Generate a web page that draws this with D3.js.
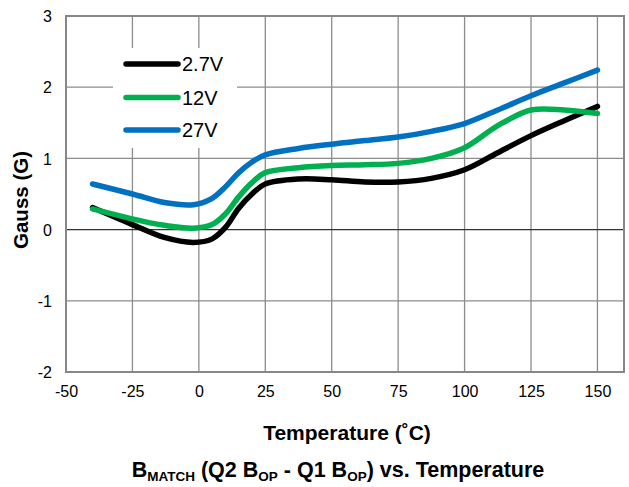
<!DOCTYPE html>
<html><head><meta charset="utf-8">
<script src="https://cdn.jsdelivr.net/npm/d3@7"></script>
<style>body{margin:0;background:#fff;} text{font-family:"Liberation Sans",Arial,sans-serif;}</style>
</head><body>
<svg id="c" width="629" height="487"></svg>
<script>
const temps = [-40, -25, -13, -2, 5, 10, 15, 20, 25, 37.5, 50, 62.5, 75, 87.5, 100, 112.5, 125, 137.5, 150];
const v27 = [0.31, 0.07, -0.11, -0.18, -0.13, 0.03, 0.30, 0.50, 0.64, 0.71, 0.70, 0.67, 0.67, 0.72, 0.84, 1.08, 1.32, 1.53, 1.73];
const v12 = [0.29, 0.15, 0.06, 0.02, 0.07, 0.22, 0.46, 0.66, 0.80, 0.87, 0.90, 0.91, 0.93, 1.00, 1.15, 1.46, 1.68, 1.68, 1.63];
const v27V = [0.64, 0.50, 0.38, 0.35, 0.44, 0.60, 0.80, 0.95, 1.05, 1.14, 1.20, 1.25, 1.30, 1.38, 1.49, 1.68, 1.88, 2.06, 2.24];
const seriesNames = ["2.7V", "12V", "27V"];
const seriesColors = ["#000000", "#00b050", "#0070c0"];
const xTicks = [-50, -25, 0, 25, 50, 75, 100, 125, 150];
const yTicks = [-2, -1, 0, 1, 2, 3];

const svg = d3.select("#c");
const L = 66, R = 624, T = 16, B = 372;
const x = d3.scaleLinear().domain([-50, 160]).range([L, R]);
const y = d3.scaleLinear().domain([-2, 3]).range([B, T]);
const fmt = d => d < 0 ? "-" + Math.abs(d) : String(d);

// gridlines
svg.append("g").selectAll("line").data(xTicks.filter(d => d > -50)).join("line")
  .attr("x1", d => x(d)).attr("x2", d => x(d)).attr("y1", T).attr("y2", B)
  .attr("stroke", "#8c8c8c").attr("stroke-width", 1.3);
svg.append("g").selectAll("line").data(yTicks.filter(d => d !== 0 && d !== -2 && d !== 3)).join("line")
  .attr("x1", L).attr("x2", R).attr("y1", d => y(d)).attr("y2", d => y(d))
  .attr("stroke", "#8c8c8c").attr("stroke-width", 1.3);
// zero line
svg.append("line").attr("x1", L).attr("x2", R).attr("y1", y(0)).attr("y2", y(0))
  .attr("stroke", "#333").attr("stroke-width", 1.2);
// frame
svg.append("rect").attr("x", L).attr("y", T).attr("width", R - L).attr("height", B - T)
  .attr("fill", "none").attr("stroke", "#878787").attr("stroke-width", 2);

// axes labels
const xAxis = d3.axisBottom(x).tickValues(xTicks).tickFormat(fmt).tickSize(0).tickPadding(0);
const gx = svg.append("g").attr("transform", `translate(0,${B})`).call(xAxis);
gx.select(".domain").remove();
gx.selectAll("text").attr("font-size", 16).attr("fill", "#000").attr("dy", null).attr("y", 25)
  .attr("font-family", "Liberation Sans, Arial, sans-serif");
const yAxis = d3.axisLeft(y).tickValues(yTicks).tickFormat(fmt).tickSize(0).tickPadding(0);
const gy = svg.append("g").attr("transform", `translate(52,0)`).call(yAxis);
gy.select(".domain").remove();
gy.selectAll("text").attr("font-size", 16).attr("fill", "#000").attr("dy", "0.35em")
  .attr("font-family", "Liberation Sans, Arial, sans-serif");

// legend background
svg.append("rect").attr("x", 113).attr("y", 48).attr("width", 124).attr("height", 100).attr("fill", "#fff");

// lines
const data = [v27, v12, v27V];
const line = d3.line().x((d, i) => x(temps[i])).y(d => y(d)).curve(d3.curveCatmullRom.alpha(0.5));
data.forEach((vals, k) => {
  svg.append("path").attr("d", line(vals)).attr("fill", "none")
    .attr("stroke", seriesColors[k]).attr("stroke-width", 5.5).attr("stroke-linecap", "round").attr("stroke-linejoin", "round");
});

// legend
const legY = [64, 97.5, 130];
seriesNames.forEach((n, k) => {
  svg.append("line").attr("x1", 126).attr("x2", 178).attr("y1", legY[k]).attr("y2", legY[k])
    .attr("stroke", seriesColors[k]).attr("stroke-width", 5.5).attr("stroke-linecap", "round");
  svg.append("text").attr("x", 182).attr("y", legY[k]).attr("dy", "0.36em").attr("font-size", 20).text(n);
});

// titles
svg.append("text").attr("transform", "translate(28,200) rotate(-90)").attr("text-anchor", "middle")
  .attr("font-size", 20.5).attr("font-weight", "bold").text("Gauss (G)");
svg.append("text").attr("x", 347).attr("y", 440).attr("text-anchor", "middle")
  .attr("font-size", 21).attr("font-weight", "bold").text("Temperature (˚C)");
const st = svg.append("text").attr("x", 338).attr("y", 477).attr("text-anchor", "middle")
  .attr("font-size", 21.5).attr("font-weight", "bold");
st.append("tspan").text("B");
st.append("tspan").attr("font-size", 13.5).attr("dy", 4).text("MATCH");
st.append("tspan").attr("dy", -4).text(" (Q2 B");
st.append("tspan").attr("font-size", 13.5).attr("dy", 4).text("OP");
st.append("tspan").attr("dy", -4).text(" - Q1 B");
st.append("tspan").attr("font-size", 13.5).attr("dy", 4).text("OP");
st.append("tspan").attr("dy", -4).text(") vs. Temperature");
</script>
</body></html>
